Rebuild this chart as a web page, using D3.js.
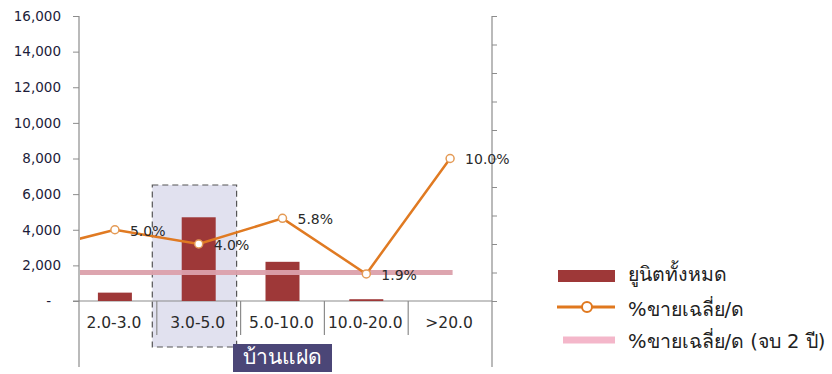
<!DOCTYPE html>
<html>
<head>
<meta charset="utf-8">
<script src="https://cdn.jsdelivr.net/npm/d3@7"></script>
<style>
  html, body { margin: 0; padding: 0; background: #fff; }
  svg { display: block; }
  text { font-family: "DejaVu Sans", "Noto Sans", sans-serif; }
</style>
</head>
<body>
<svg id="chart" width="832" height="374"></svg>
<script>
// Price buckets (million baht) for semi-detached houses
const categories = ["2.0-3.0", "3.0-5.0", "5.0-10.0", "10.0-20.0", ">20.0"];
// Total units per bucket
const units = [470, 4700, 2200, 100, 0];
// Average monthly sales rate (%) per bucket
const salesRate = [5.0, 4.0, 5.8, 1.9, 10.0];
// Rate of the bucket just before the first one (its line runs in from the left edge)
const salesRateLeadIn = 3.5;
// Average monthly sales rate for projects finished within 2 years (%)
const salesRate2yr = 2.0;
const leftTicks = [0, 2000, 4000, 6000, 8000, 10000, 12000, 14000, 16000];
const rightTicks = [0, 2, 4, 6, 8, 10, 12, 14, 16, 18, 20];
const groupLabel = "บ้านแฝด";
const highlighted = "3.0-5.0";
const legendLabels = ["ยูนิตทั้งหมด", "%ขายเฉลี่ย/ด", "%ขายเฉลี่ย/ด (จบ 2 ปี)"];

const svg = d3.select("#chart");
const axisX = 79, rightX = 492, plotTop = 16, base = 301, axisBottom = 367;

const x = d3.scaleBand().domain(categories).range([73, rightX]);
const yL = d3.scaleLinear().domain([0, 16000]).range([base, plotTop]);
const yR = d3.scaleLinear().domain([0, 20]).range([base, plotTop]);
const step = x.step();
const cx = c => x(c) + x.bandwidth() / 2;

const AXIS = "#8c8c8c";

// Highlight box around the 3.0-5.0 bucket
svg.append("rect")
  .attr("x", x(highlighted) - 4.5).attr("y", 185)
  .attr("width", x.bandwidth() + 0.5).attr("height", 162)
  .attr("fill", "#e1e1ef").attr("stroke", "#555")
  .attr("stroke-width", 1.2).attr("stroke-dasharray", "6,4");

// Left value axis
const gL = svg.append("g").attr("transform", `translate(${axisX},0)`)
  .call(d3.axisLeft(yL).tickValues(leftTicks).tickSize(6).tickPadding(12)
    .tickFormat(d => d === 0 ? "-" : d3.format(",")(d)));
gL.select(".domain").remove();
gL.selectAll(".tick line").attr("stroke", AXIS);
gL.selectAll(".tick text").attr("font-size", "13.5px").attr("fill", "#1c1c3a")
  .filter(d => d === 0).attr("dx", -10);
svg.append("line").attr("x1", axisX).attr("x2", axisX).attr("y1", plotTop).attr("y2", axisBottom)
  .attr("stroke", AXIS).attr("stroke-width", 1.2);

// Right axis (ticks only)
const gR = svg.append("g").attr("transform", `translate(${rightX},0)`)
  .call(d3.axisRight(yR).tickValues(rightTicks).tickSize(5).tickFormat(""));
gR.select(".domain").remove();
gR.selectAll(".tick line").attr("stroke", AXIS);
svg.append("line").attr("x1", rightX).attr("x2", rightX).attr("y1", plotTop).attr("y2", axisBottom)
  .attr("stroke", AXIS).attr("stroke-width", 1.2);

// Category axis with dividers between buckets
svg.append("line").attr("x1", 73).attr("x2", rightX).attr("y1", base).attr("y2", base)
  .attr("stroke", AXIS).attr("stroke-width", 1.2);
svg.append("g").selectAll("line").data(categories.slice(1)).join("line")
  .attr("x1", d => x(d)).attr("x2", d => x(d))
  .attr("y1", base).attr("y2", 335).attr("stroke", AXIS).attr("stroke-width", 1.2);
svg.append("g").selectAll("text").data(categories).join("text")
  .attr("x", d => cx(d) - 1).attr("y", 323).attr("dy", "0.35em")
  .attr("text-anchor", "middle").attr("font-size", "15.5px").attr("fill", "#2a2a2a")
  .text(d => d);

// Group label
svg.append("rect").attr("x", 233).attr("y", 344).attr("width", 99).attr("height", 28)
  .attr("fill", "#4b4677");
svg.append("text").attr("x", 282.5).attr("y", 357).attr("dy", "0.35em")
  .attr("text-anchor", "middle").attr("font-size", "21px").attr("fill", "#fff")
  .text(groupLabel);

// Unit bars
const barW = 34;
svg.append("g").selectAll("rect").data(categories).join("rect")
  .attr("x", d => cx(d) - barW / 2)
  .attr("y", (d, i) => yL(units[i]))
  .attr("width", barW)
  .attr("height", (d, i) => base - yL(units[i]))
  .attr("fill", "#9e3838");

// Clip lines to the plot area
svg.append("defs").append("clipPath").attr("id", "plot")
  .append("rect").attr("x", axisX + 1).attr("y", 0).attr("width", rightX - axisX).attr("height", base);

const leadX = cx(categories[0]) - step;

// 2-year average line
const avgPts = [[leadX, salesRate2yr], ...categories.map(c => [cx(c), salesRate2yr])];
svg.append("path").attr("clip-path", "url(#plot)")
  .attr("d", d3.line().x(d => d[0]).y(d => yR(d[1]))(avgPts))
  .attr("fill", "none").attr("stroke", "#dba0ab").attr("stroke-width", 5)
  .attr("stroke-linecap", "square").attr("opacity", 0.95);

// Sales rate line
const ratePts = [[leadX, salesRateLeadIn], ...categories.map((c, i) => [cx(c), salesRate[i]])];
svg.append("path").attr("clip-path", "url(#plot)")
  .attr("d", d3.line().x(d => d[0]).y(d => yR(d[1]))(ratePts))
  .attr("fill", "none").attr("stroke", "#e07a22").attr("stroke-width", 2.5);
svg.append("g").selectAll("circle").data(categories).join("circle")
  .attr("cx", d => cx(d)).attr("cy", (d, i) => yR(salesRate[i])).attr("r", 4)
  .attr("fill", "#fff").attr("stroke", "#e49a55").attr("stroke-width", 1.5);
svg.append("g").selectAll("text").data(categories).join("text")
  .attr("x", d => cx(d) + 15).attr("y", (d, i) => yR(salesRate[i]) + 1).attr("dy", "0.35em")
  .attr("font-size", "14px").attr("fill", "#2a2a2a")
  .text((d, i) => d3.format(".1f")(salesRate[i]) + "%");

// Legend
const lg = svg.append("g");
lg.append("rect").attr("x", 558).attr("y", 270).attr("width", 57).attr("height", 12).attr("fill", "#9e3838");
lg.append("line").attr("x1", 557).attr("x2", 615).attr("y1", 307).attr("y2", 307)
  .attr("stroke", "#e0781e").attr("stroke-width", 3);
lg.append("circle").attr("cx", 587).attr("cy", 307).attr("r", 5)
  .attr("fill", "#fff").attr("stroke", "#e0781e").attr("stroke-width", 2);
lg.append("line").attr("x1", 563).attr("x2", 615).attr("y1", 340).attr("y2", 340)
  .attr("stroke", "#f4b7ca").attr("stroke-width", 7);
lg.selectAll("text").data(legendLabels).join("text")
  .attr("x", 628).attr("y", (d, i) => [274, 309, 341][i]).attr("dy", "0.35em")
  .attr("font-size", "19.5px").attr("fill", "#222")
  .text(d => d);
</script>
</body>
</html>
